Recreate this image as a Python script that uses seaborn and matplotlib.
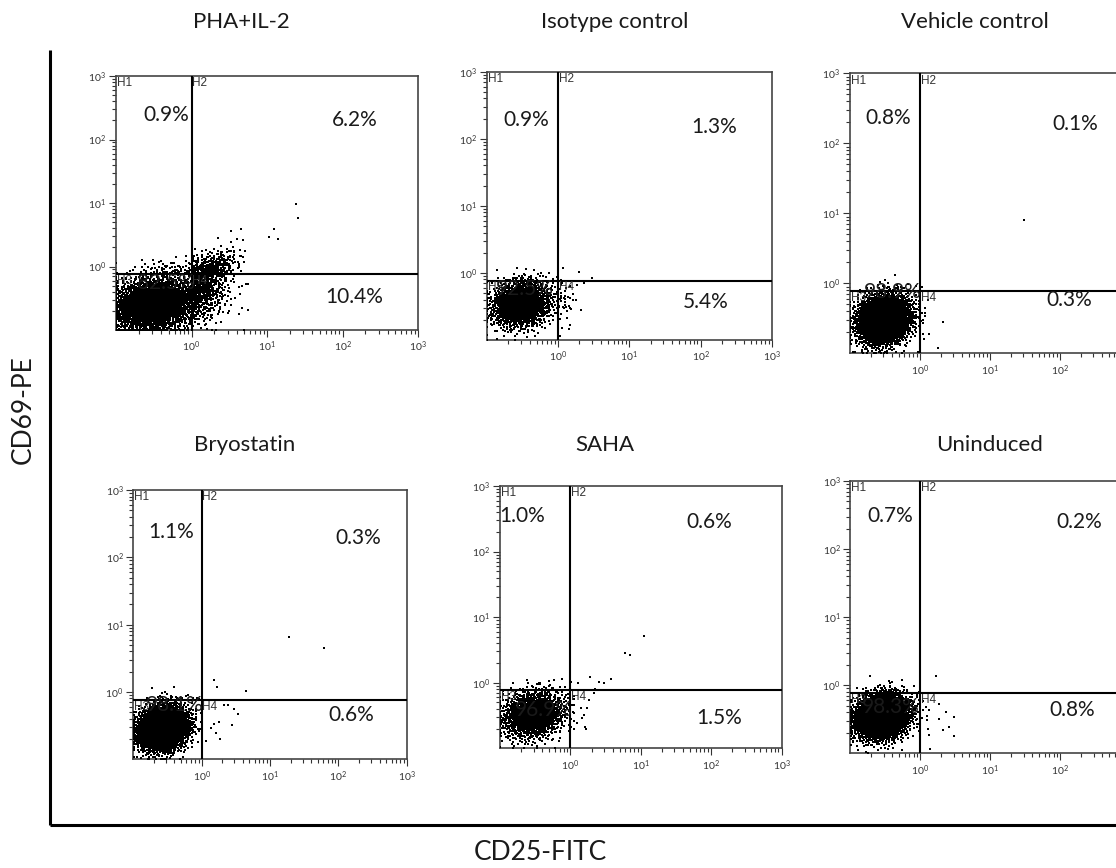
import numpy as np
import pandas as pd
import matplotlib
matplotlib.use("Agg")
import matplotlib.pyplot as plt
import seaborn as sns
from matplotlib.ticker import FixedLocator, FuncFormatter, NullFormatter
from matplotlib.lines import Line2D

sns.set_theme(style="white")
plt.rcParams["font.family"] = ["Lato", "DejaVu Sans"]

# ---------------- data ----------------
titles = ["PHA+IL-2", "Isotype control", "Vehicle control", "Bryostatin", "SAHA", "Uninduced"]
pct_h1 = [0.9, 0.9, 0.8, 1.1, 1.0, 0.7]
pct_h2 = [6.2, 1.3, 0.1, 0.3, 0.6, 0.2]
pct_h3 = [82.5, 92.5, 98.9, 98.1, 96.9, 98.3]
pct_h4 = [10.4, 5.4, 0.3, 0.6, 1.5, 0.8]
gate_x = 1.0
gate_y = 0.77
major_ticks = [1, 10, 100, 1000]

# main (H3) population, log10 units
core_n = [2600, 1700, 3400, 3400, 1500, 3400]
core_cx = [-0.50, -0.52, -0.52, -0.56, -0.53, -0.55]
core_cy = [-0.60, -0.47, -0.52, -0.54, -0.49, -0.46]
core_sx = [0.32, 0.21, 0.19, 0.18, 0.22, 0.19]
core_sy = [0.22, 0.17, 0.17, 0.16, 0.18, 0.16]
# H1 tail just above the CD69 gate
h1_n = [45, 12, 8, 10, 12, 15]
h1_cx = [-0.25, -0.45, -0.45, -0.50, -0.40, -0.45]
h1_sx = [0.25, 0.15, 0.15, 0.15, 0.20, 0.18]
h1_sy = [0.12, 0.06, 0.05, 0.06, 0.07, 0.06]
# H2 / H4 activated populations (only PHA+IL-2 and isotype have sizeable clouds)
h2_n = [300, 3, 0, 0, 0, 0]
h2_cx = [0.28, 0.10, 0, 0, 0, 0]
h2_cy = [-0.05, -0.10, 0, 0, 0, 0]
h2_sx = [0.18, 0.15, 0, 0, 0, 0]
h2_sy = [0.17, 0.10, 0, 0, 0, 0]
h4_n = [450, 30, 0, 0, 0, 0]
h4_cy = [-0.35, -0.40, 0, 0, 0, 0]
h4_sx = [0.24, 0.15, 0, 0, 0, 0]
h4_sy = [0.22, 0.20, 0, 0, 0, 0]
# individual events (log10 CD25, log10 CD69)
out_x = [
    [1.38, 1.41, 1.09, 1.14, 1.02, 0.65, 0.52],
    [0.48, 0.36, 0.05],
    [1.48, 0.33, 0.05, 0.26],
    [1.28, 1.79, 0.175, 0.23, 0.65, 0.14, 0.18, 0.26, 0.21, 0.27, 0.45, 0.33, 0.38, 0.48, 0.53],
    [1.05, 0.77, 0.85, 0.57, 0.40, 0.28, 0.47, 0.35, 0.05, 0.09, 0.17, 0.19, 0.24, 0.21, 0.26, 0.33],
    [0.23, 0.10, 0.12, 0.26, 0.36, 0.48, 0.41, 0.33, 0.48, 0.14, 0.12, 0.26],
]
out_y = [
    [0.99, 0.77, 0.59, 0.43, 0.47, 0.59, 0.56],
    [-0.08, -0.155, -0.82],
    [0.90, -0.55, -0.79, -0.92],
    [0.81, 0.65, 0.18, 0.08, 0.02, -0.53, -0.48, -0.45, -0.61, -0.70, -0.49, -0.20, -0.20, -0.26, -0.32],
    [0.72, 0.46, 0.43, 0.05, 0.015, 0.09, -0.01, -0.09, -0.70, -0.62, -0.54, -0.49, -0.39, -0.67, -0.26, -0.15],
    [0.13, -0.51, -0.36, -0.49, -0.39, -0.46, -0.61, -0.66, -0.74, -0.93, -0.73, -0.27],
]

# ---------------- layout (pixels of the 1116x868 canvas) ----------------
W_PX, H_PX = 1116, 868
panel_box = [  # left, bottom, width, height
    (116, 330, 302, 254),
    (486.7, 340, 285.3, 268.3),
    (850, 353.3, 280, 280),
    (133.3, 759.3, 273.4, 269.3),
    (500, 748.3, 281.7, 262.3),
    (850.3, 753.3, 280, 272.3),
]
title_xy = [(241, 22), (615, 22), (975, 22), (245, 445), (605, 445), (990, 445)]
pct_pos = [
    [(0.168, 0.845), (0.791, 0.826), (0.166, 0.185), (0.788, 0.131)],
    [(0.140, 0.820), (0.797, 0.795), (0.134, 0.189), (0.768, 0.140)],
    [(0.137, 0.839), (0.806, 0.819), (0.152, 0.220), (0.783, 0.190)],
    [(0.137, 0.845), (0.821, 0.821), (0.152, 0.200), (0.796, 0.165)],
    [(0.078, 0.886), (0.742, 0.864), (0.155, 0.146), (0.777, 0.114)],
    [(0.144, 0.871), (0.817, 0.851), (0.143, 0.171), (0.792, 0.159)],
]

LO, HI = -0.995, 2.995
gx, gy = np.log10(gate_x), np.log10(gate_y)


def gauss_pairs(n, start):
    """Deterministic low-discrepancy normal pairs (Halton bases 2/3 + Box-Muller)."""
    def halton(idx, base):
        f, r = np.ones_like(idx, dtype=float), np.zeros_like(idx, dtype=float)
        i = idx.astype(float)
        while np.any(i > 0):
            f = f / base
            r = r + f * (i % base)
            i = np.floor(i / base)
        return r
    idx = np.arange(start + 1, start + n + 1)
    u = np.clip(halton(idx, 2), 1e-6, 1 - 1e-6)
    v = halton(idx, 3)
    r = np.sqrt(-2 * np.log(u))
    return r * np.cos(2 * np.pi * v), r * np.sin(2 * np.pi * v)


def above(v, b):
    return b + np.abs(v - b)


def below(v, b):
    return b - np.abs(v - b)


def build(k):
    xs, ys = [], []
    z1, z2 = gauss_pairs(core_n[k], 997 * k + 17)
    xs.append(core_cx[k] + core_sx[k] * z1)
    ys.append(core_cy[k] + core_sy[k] * (0.15 * z1 + 0.99 * z2))
    if h1_n[k]:
        z1, z2 = gauss_pairs(h1_n[k], 50000 + 37 * k)
        xs.append(below(h1_cx[k] + h1_sx[k] * z1, gx))
        ys.append(above(gy + h1_sy[k] * z2, gy))
    if h2_n[k]:
        z1, z2 = gauss_pairs(h2_n[k], 90000 + 53 * k)
        xs.append(above(h2_cx[k] + h2_sx[k] * z1, gx))
        ys.append(above(h2_cy[k] + h2_sy[k] * (0.55 * z1 + 0.83 * z2), gy))
    if h4_n[k]:
        z1, z2 = gauss_pairs(h4_n[k], 130000 + 71 * k)
        xs.append(above(gx + h4_sx[k] * z1, gx))
        ys.append(below(h4_cy[k] + h4_sy[k] * (0.3 * z1 + 0.95 * z2), gy))
    xs.append(np.array(out_x[k]))
    ys.append(np.array(out_y[k]))
    x = np.clip(np.concatenate(xs), LO, HI)
    y = np.clip(np.concatenate(ys), LO, HI)
    return pd.DataFrame({"CD25": 10 ** x, "CD69": 10 ** y})


fig = plt.figure(figsize=(W_PX / 100, H_PX / 100), dpi=100)
fig.patch.set_facecolor("white")

minor = [m * 10.0 ** e for e in range(-1, 3) for m in range(2, 10)]
fmt = FuncFormatter(lambda v, p: r"$\mathregular{10^{%d}}$" % round(np.log10(v)))

for k in range(6):
    L, B, Wd, Ht = panel_box[k]
    ax = fig.add_axes([L / W_PX, 1 - B / H_PX, Wd / W_PX, Ht / H_PX])
    df = build(k)
    sns.scatterplot(data=df, x="CD25", y="CD69", ax=ax, s=1.1, marker="s",
                    color="black", linewidth=0, legend=False, zorder=3)
    ax.set_xscale("log")
    ax.set_yscale("log")
    ax.set_xlim(0.1, 1000)
    ax.set_ylim(0.1, 1000)
    ax.set_xlabel("")
    ax.set_ylabel("")
    ax.axvline(gate_x, color="black", lw=1.5, zorder=4)
    ax.axhline(gate_y, color="black", lw=1.5, zorder=4)
    for axis in (ax.xaxis, ax.yaxis):
        axis.set_major_locator(FixedLocator(major_ticks))
        axis.set_minor_locator(FixedLocator(minor))
        axis.set_major_formatter(fmt)
        axis.set_minor_formatter(NullFormatter())
    ax.tick_params(which="major", direction="out", length=5, width=0.8,
                   color="#333333", labelsize=7.5, labelcolor="#333333", pad=2,
                   bottom=True, left=True)
    ax.tick_params(which="minor", direction="out", length=3, width=0.8,
                   color="#333333", bottom=True, left=True)
    for sp in ax.spines.values():
        sp.set_visible(True)
        sp.set_color("#444444")
        sp.set_linewidth(1.2)
    # quadrant names
    hkw = dict(fontsize=8.5, color="#333333", family=["Liberation Sans", "DejaVu Sans"], zorder=5)
    ax.text(0.004, 0.995, "H1", transform=ax.transAxes, ha="left", va="top", **hkw)
    ax.text(gate_x * 1.02, 0.995, "H2", transform=ax.get_xaxis_transform(), ha="left", va="top", **hkw)
    ax.text(0.004, gate_y * 0.97, "H3", transform=ax.get_yaxis_transform(), ha="left", va="top", **hkw)
    ax.text(gate_x * 1.02, gate_y * 0.97, "H4", ha="left", va="top", **hkw)
    # quadrant percentages
    vals = [pct_h1[k], pct_h2[k], pct_h3[k], pct_h4[k]]
    for v, (fx, fy) in zip(vals, pct_pos[k]):
        ax.text(fx, fy, f"{v:.1f}%", transform=ax.transAxes, ha="center", va="center",
                fontsize=15, color="#1a1a1a", zorder=5)
    tx, ty = title_xy[k]
    fig.text(tx / W_PX, 1 - ty / H_PX, titles[k], ha="center", va="center",
             fontsize=16, color="#1a1a1a")

# outer axis frame and labels
fig.add_artist(Line2D([50 / W_PX, 50 / W_PX], [1 - 50 / H_PX, 1 - 825 / H_PX],
                      color="black", lw=2.2, solid_capstyle="butt"))
fig.add_artist(Line2D([50 / W_PX, 1.0], [1 - 825 / H_PX, 1 - 825 / H_PX],
                      color="black", lw=2.2, solid_capstyle="butt"))
fig.text(23 / W_PX, 1 - 410 / H_PX, "CD69-PE", rotation=90, ha="center", va="center",
         fontsize=19, color="#1a1a1a")
fig.text(540 / W_PX, 1 - 853 / H_PX, "CD25-FITC", ha="center", va="center",
         fontsize=19, color="#1a1a1a")

fig.savefig("out.png", dpi=100, facecolor="white")
